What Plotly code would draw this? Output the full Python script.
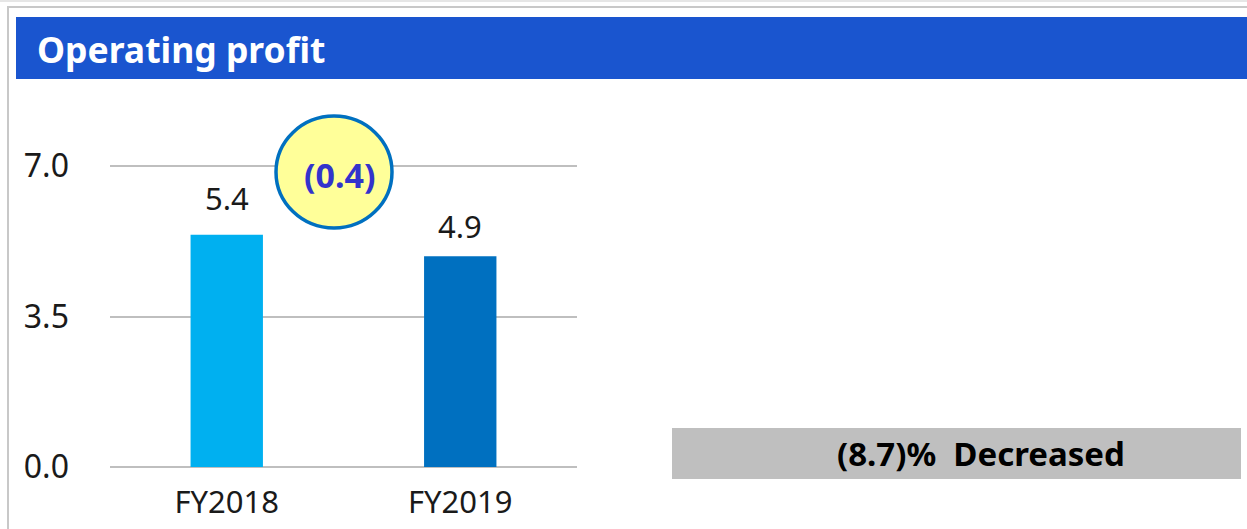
import plotly.graph_objects as go

# ---- data ----
categories = ["FY2018", "FY2019"]
values = [5.4, 4.9]
bar_colors = ["#00B0F0", "#0070C0"]
value_labels = ["5.4", "4.9"]
y_ticks = [0.0, 3.5, 7.0]
y_tick_labels = ["0.0", "3.5", "7.0"]
title_text = "Operating profit"
diff_text = "(0.4)"
change_text = "(8.7)%  Decreased"

# ---- style ----
label_offsets = [37, 30]  # px between bar top and label centre
W, H = 1247, 529
FONT = "Noto Sans"
TXT = "#1a1a1a"
Y_MAX = 7.5

def px(x):
    return min(max(x / W, 0), 1)

def py(y):
    return min(max((H - y) / H, 0), 1)

fig = go.Figure()
fig.add_trace(go.Bar(
    x=categories, y=values,
    marker=dict(color=bar_colors, line=dict(width=0)),
    width=0.31,
    cliponaxis=False,
    hoverinfo="skip",
))

shapes = [
    dict(type="line", xref="paper", yref="paper", x0=0, x1=1, y0=py(1), y1=py(1),
         line=dict(color="#E6E6E6", width=2), layer="below"),
    dict(type="line", xref="paper", yref="paper", x0=px(7), x1=1, y0=py(7), y1=py(7),
         line=dict(color="#C8C8C8", width=2), layer="below"),
    dict(type="line", xref="paper", yref="paper", x0=px(8), x1=px(8), y0=0, y1=py(7),
         line=dict(color="#C8C8C8", width=2), layer="below"),
    dict(type="rect", xref="paper", yref="paper", x0=px(16), x1=1, y0=py(79), y1=py(17),
         line=dict(width=0), fillcolor="#1A55CF", layer="below"),
    dict(type="rect", xref="paper", yref="paper", x0=px(672), x1=px(1241), y0=py(479), y1=py(428),
         line=dict(width=0), fillcolor="#BFBFBF", layer="below"),
    dict(type="circle", xref="paper", yref="paper", x0=px(276), x1=px(392), y0=py(228), y1=py(116),
         line=dict(color="#0070C0", width=3.5), fillcolor="#FFFF99", layer="above"),
]

annotations = [
    dict(text=title_text, xref="paper", yref="paper", x=px(35), y=py(49),
         xanchor="left", yanchor="middle", showarrow=False,
         font=dict(family=FONT, size=35.5, color="white", weight="bold")),
    dict(text=diff_text, xref="paper", yref="paper", x=px(340), y=py(175),
         xanchor="center", yanchor="middle", showarrow=False,
         font=dict(family=FONT, size=34, color="#3333CC", weight="bold")),
    dict(text=change_text, xref="paper", yref="paper", x=px(981), y=py(453),
         xanchor="center", yanchor="middle", showarrow=False,
         font=dict(family=FONT, size=33, color="black", weight="bold")),
]
for cat, val, lab, off in zip(categories, values, value_labels, label_offsets):
    annotations.append(dict(text=lab, x=cat, y=val, xref="x", yref="y",
                            xanchor="center", yanchor="middle", yshift=off, showarrow=False,
                            font=dict(family=FONT, size=31, color=TXT)))

top_px = 467 - (467 - 166) * Y_MAX / 7.0

fig.update_layout(
    width=W, height=H,
    margin=dict(l=0, r=0, t=0, b=0, pad=0, autoexpand=False),
    paper_bgcolor="white", plot_bgcolor="rgba(0,0,0,0)",
    showlegend=False,
    shapes=shapes, annotations=annotations,
    xaxis=dict(domain=[110 / W, 577 / W], showgrid=False, showline=False, zeroline=False,
               ticks="", tickfont=dict(family=FONT, size=31, color=TXT),
               ticklabelstandoff=14, fixedrange=True, automargin=False),
    yaxis=dict(domain=[(H - 467) / H, (H - top_px) / H], range=[0, Y_MAX], tickvals=y_ticks,
               ticktext=y_tick_labels,
               showgrid=True, gridcolor="#BFBFBF", gridwidth=1.5, zeroline=True,
               zerolinecolor="#BFBFBF", zerolinewidth=1.5, showline=False, ticks="",
               tickfont=dict(family=FONT, size=32, color=TXT),
               ticklabelstandoff=40, fixedrange=True, automargin=False),
)

fig.write_html("out.html", config={"displayModeBar": False},
               post_script="document.body.style.margin='0';")
